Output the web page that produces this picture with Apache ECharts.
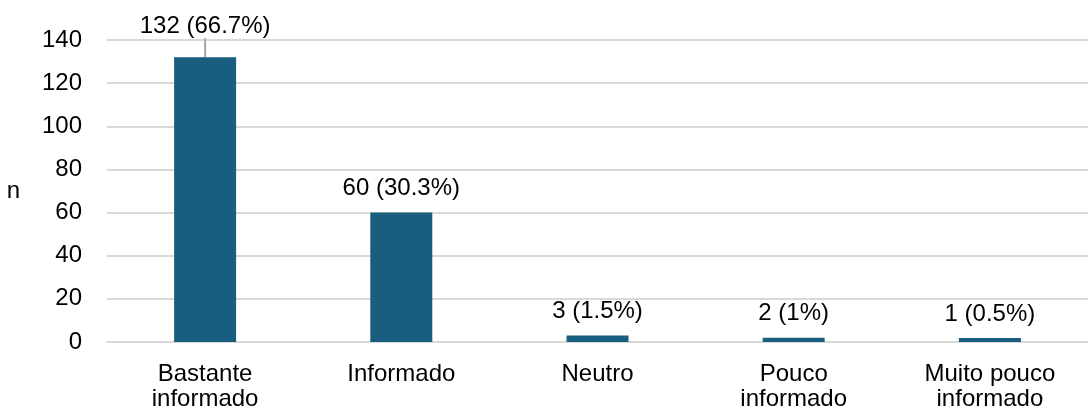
<!DOCTYPE html>
<html>
<head>
<meta charset="utf-8">
<script src="https://cdn.jsdelivr.net/npm/echarts@6/dist/echarts.min.js"></script>
<style>
html,body{margin:0;padding:0;background:#fff;}
#container{width:1088px;height:416px;}
</style>
</head>
<body>
<div id="container"></div>
<script>
var categories = ['Bastante\ninformado', 'Informado', 'Neutro', 'Pouco\ninformado', 'Muito pouco\ninformado'];
var counts = [132, 60, 3, 2, 1];
var percents = ['66.7%', '30.3%', '1.5%', '1%', '0.5%'];

// only the tallest bar gets a leader line to its label
var barData = [];
for (var i = 0; i < counts.length; i++) {
	barData.push({value: counts[i], labelLine: {show: i === 0}});
}

var chart = echarts.init(document.getElementById('container'));
var option = {
	animation: false,
	textStyle: {fontFamily: 'Liberation Sans, Arial, sans-serif'},
	grid: {left: 107, top: 40, width: 985, bottom: 74},
	xAxis: {
		type: 'category',
		data: categories,
		axisLine: {lineStyle: {color: '#d9d9d9', width: 2}},
		axisTick: {show: false},
		axisLabel: {color: '#000', fontSize: 24, lineHeight: 25, margin: 20, interval: 0}
	},
	yAxis: {
		type: 'value',
		name: 'n',
		nameLocation: 'middle',
		nameGap: 87,
		nameRotate: 0,
		nameTextStyle: {color: '#000', fontSize: 24},
		min: 0,
		max: 140,
		interval: 20,
		axisLine: {show: false},
		axisTick: {show: false},
		axisLabel: {color: '#000', fontSize: 24, margin: 25},
		splitLine: {lineStyle: {color: '#d9d9d9', width: 2}}
	},
	series: [{
		type: 'bar',
		data: barData,
		barWidth: 62,
		barMinHeight: 4,
		itemStyle: {color: '#195e7f'},
		label: {
			show: true,
			position: 'top',
			distance: 12,
			color: '#000',
			fontSize: 24,
			formatter: function(p){
				return counts[p.dataIndex] + ' (' + percents[p.dataIndex] + ')';
			}
		},
		labelLine: {lineStyle: {color: '#a6a6a6', width: 2}},
		labelLayout: function(p){
			if (p.dataIndex === 0) {
				return {dy: -7};
			}
			return {};
		}
	}]
};
chart.setOption(option);
</script>
</body>
</html>
